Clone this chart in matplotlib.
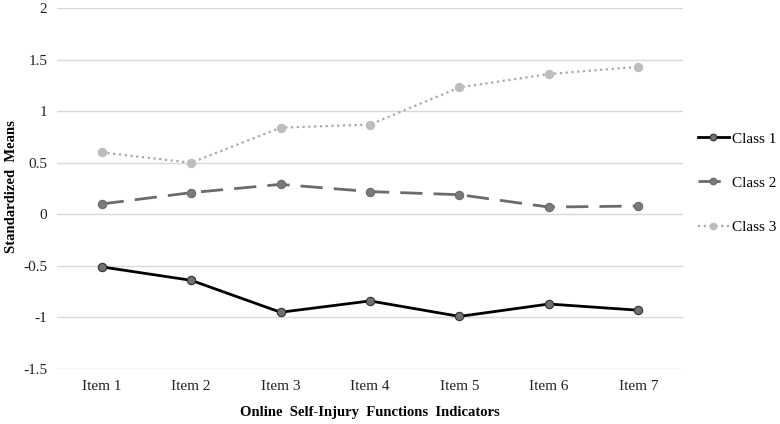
import numpy as np
import matplotlib
matplotlib.use("Agg")
import matplotlib.pyplot as plt

items = ["Item 1", "Item 2", "Item 3", "Item 4", "Item 5", "Item 6", "Item 7"]
class1 = [-0.51, -0.64, -0.95, -0.84, -0.99, -0.87, -0.93]
class2 = [0.10, 0.21, 0.29, 0.22, 0.19, 0.07, 0.08]
class3 = [0.60, 0.50, 0.84, 0.87, 1.23, 1.36, 1.43]
yticks = [-1.5, -1, -0.5, 0, 0.5, 1, 1.5, 2]
ytick_labels = ["-1.5", "-1", "-0.5", "0", "0.5", "1", "1.5", "2"]

plt.rcParams['font.family'] = ['Liberation Serif', 'DejaVu Serif']

fig = plt.figure(figsize=(7.8, 4.24), dpi=100)
ax = fig.add_axes([57 / 780, 1 - 369 / 424, 626 / 780, 361 / 424])

x = np.arange(len(items))
ax.plot(x, class1, color='black', lw=2.0, marker='o', ms=6,
        mfc='#707070', mec='#303030', mew=0.8, label='Class 1', zorder=3)
ax.plot(x, class2, color='#6b6b6b', lw=2.0, dashes=(8, 4), marker='o', ms=6,
        mfc='#7a7a7a', mec='#6b6b6b', mew=0.8, label='Class 2', zorder=3)
ax.plot(x, class3, color='#a8a8a8', lw=1.6, dashes=(1, 1.6), marker='o', ms=6,
        mfc='#bdbdbd', mec='#bdbdbd', mew=0.8, label='Class 3', zorder=3)

ax.set_xlim(-0.5, len(items) - 0.5)
ax.set_ylim(-1.5, 2)
ax.set_yticks(yticks)
ax.set_yticklabels(ytick_labels)
ax.set_xticks(x)
ax.set_xticklabels(items)
ax.tick_params(length=0, labelsize=11, colors='#222222')
ax.tick_params(axis='y', pad=7)
ax.tick_params(axis='x', pad=8)
ax.grid(axis='y', color='#d9d9d9', lw=1.0)
ax.set_axisbelow(True)
for s in ax.spines.values():
    s.set_visible(False)

ax.set_xlabel("Online  Self-Injury  Functions  Indicators", fontsize=10.5,
              fontweight='bold', labelpad=9)
ax.set_ylabel("Standardized  Means", fontsize=10.5, fontweight='bold')
# label's right edge sits ~18 px from the left of the figure
ax.yaxis.set_label_coords((18 - 57) / 626, 1 - (187 - 8) / 361)

ax.legend(loc='center left', bbox_to_anchor=(1 + 15 / 626, 1 - (183 - 8) / 361),
          frameon=False, fontsize=11, handlelength=2.0, labelspacing=2.0,
          handletextpad=0.2, borderpad=0, borderaxespad=0, markerscale=0.8)

fig.savefig("out.png", dpi=100)
